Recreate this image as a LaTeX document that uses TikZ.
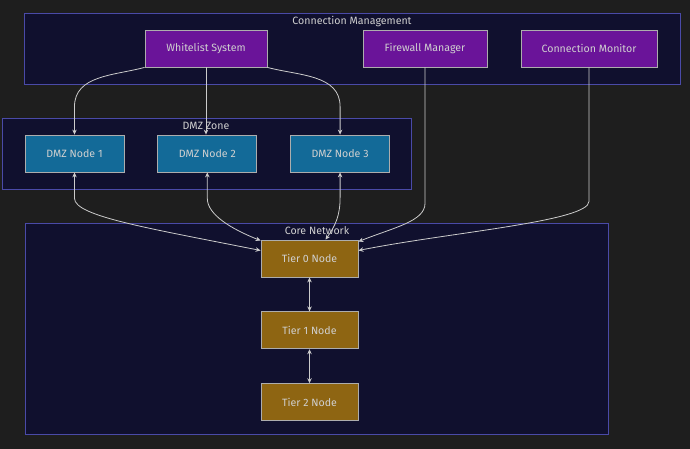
\documentclass[tikz,border=0pt]{standalone}
\usepackage{fontspec}
\setmainfont{Fira Sans}
\usepackage{xcolor}
\usetikzlibrary{positioning,arrows.meta,calc}
\definecolor{cbg}{HTML}{1E1E1E}
\definecolor{cgrp}{HTML}{10102E}
\definecolor{cgrpline}{HTML}{4A4AA8}
\definecolor{cmgmt}{HTML}{6A1499}
\definecolor{cdmz}{HTML}{136A98}
\definecolor{ccore}{HTML}{8E6512}
\definecolor{cline}{HTML}{CCCCCC}
\definecolor{ctext}{HTML}{D0D0D0}

\begin{document}
\begin{tikzpicture}[
  x=1pt, y=-1pt,
  font=\fontsize{10.6}{12}\selectfont,
  grp/.style={draw=cgrpline, fill=cgrp, line width=0.8pt},
  grpcap/.style={text=ctext, inner sep=1pt},
  blk/.style={draw=cline!85!black, line width=0.8pt, minimum height=37pt, inner sep=0pt, text=ctext},
  mg/.style={blk, fill=cmgmt},
  dz/.style={blk, fill=cdmz, minimum width=99pt},
  cr/.style={blk, fill=ccore, minimum width=97pt},
  link/.style={draw=cline, line width=0.8pt, -{Stealth[length=5pt,width=4.5pt]}},
  both/.style={link, {Stealth[length=5pt,width=4.5pt]}-{Stealth[length=5pt,width=4.5pt]}},
]
\fill[cbg] (0,0) rectangle (690,449);
\useasboundingbox (0,0) rectangle (690,449);
% ---------- groups ----------
\draw[grp] (24,13) rectangle (680,84);
\node[grpcap] (capmg) at (352,21) {Connection Management};
\draw[grp] (2,118) rectangle (411,189);
\node[grpcap] (capdz) at (206,126) {DMZ Zone};
\draw[grp] (25,223) rectangle (608,434);
\node[grpcap] (capcr) at (317,231) {Core Network};
% ---------- Connection Management ----------
\node[mg, minimum width=122pt] (wl) at (206,48.5) {Whitelist System};
\node[mg, minimum width=124pt] (fw) at (425,48.5) {Firewall Manager};
\node[mg, minimum width=136pt] (mon) at (589,48.5) {Connection Monitor};
% ---------- DMZ Zone ----------
\node[dz] (d1) at (74.5,153.5) {DMZ Node 1};
\node[dz, right=33pt of d1] (d2) {DMZ Node 2};
\node[dz, right=33pt of d2] (d3) {DMZ Node 3};
% ---------- Core Network ----------
\node[cr] (t0) at (309.5,258.5) {Tier 0 Node};
\node[cr, below=34pt of t0] (t1) {Tier 1 Node};
\node[cr, below=34pt of t1] (t2) {Tier 2 Node};
% ---------- links ----------
\draw[link] (wl.south west) to[out=195,in=90] ([yshift=28pt]d1.north) -- (d1.north);
\draw[link] (wl.south) -- (wl.south |- d2.north);
\draw[link] (wl.south east) to[out=-15,in=90] ([yshift=28pt]d3.north) -- (d3.north);
\draw[both] (d1.south) -- ([yshift=-26pt]d1.south) .. controls +(0,-18pt) and +(-110pt,22pt) .. ([yshift=8pt]t0.west);
\draw[both] (d2.south) -- ([yshift=-26pt]d2.south) .. controls +(0,-16pt) and +(-30pt,12pt) .. ([yshift=-1pt]t0.north west);
\draw[both] (d3.south) -- ([yshift=-25pt]d3.south) .. controls +(0,-18pt) and +(10pt,14pt) .. ([xshift=16pt]t0.north);
\draw[link] (fw.south) -- ([yshift=-136pt]fw.south) .. controls +(0,-18pt) and +(35pt,14pt) .. ([yshift=-2pt]t0.north east);
\draw[link] (mon.south) -- ([yshift=-134pt]mon.south) .. controls +(0,-20pt) and +(90pt,18pt) .. ([yshift=8pt]t0.east);
\draw[both] (t0) -- (t1);
\draw[both] (t1) -- (t2);
\end{tikzpicture}
\end{document}
